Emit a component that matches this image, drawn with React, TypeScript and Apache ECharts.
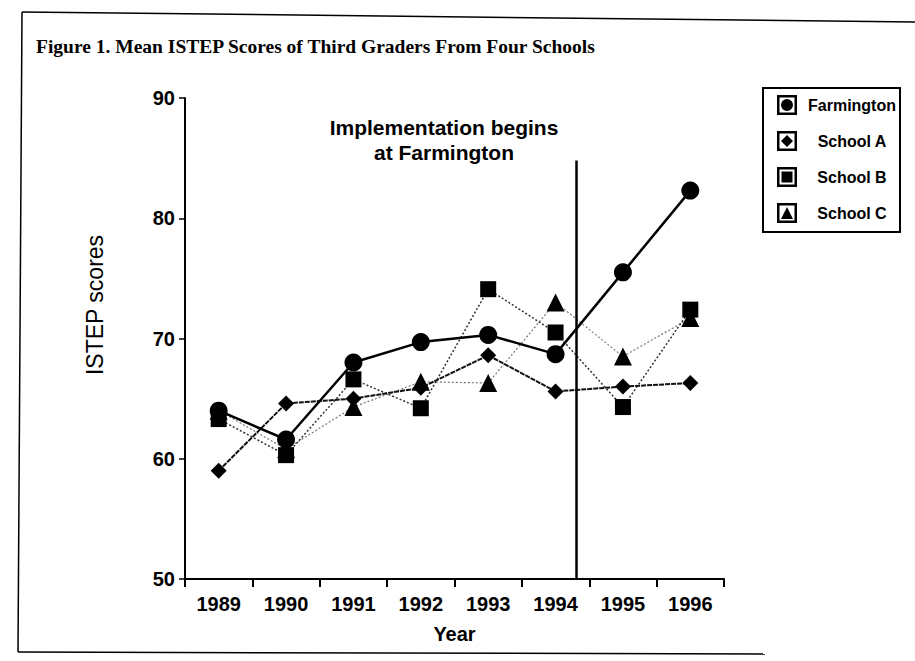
import React, { useEffect, useRef } from "react";
import * as echarts from "echarts";

const years = ["1989", "1990", "1991", "1992", "1993", "1994", "1995", "1996"];
const yearNums = [1989, 1990, 1991, 1992, 1993, 1994, 1995, 1996];
const farmington = [64.0, 61.6, 68.0, 69.7, 70.3, 68.7, 75.5, 82.3];
const schoolA = [59.0, 64.6, 65.0, 65.9, 68.6, 65.6, 66.0, 66.3];
const schoolB = [63.3, 60.3, 66.6, 64.2, 74.1, 70.5, 64.3, 72.4];
const schoolC = [64.0, 60.8, 64.3, 66.4, 66.3, 73.0, 68.5, 71.7];
const implementationYear = 1994.3;
const implementationTop = 84.8;

const ring = "M0,0H20V20H0Z M2.5,2.5V17.5H17.5V2.5Z ";
const icons = {
  circle: "path://" + ring + "M10,4A6,6,0,1,0,10,16A6,6,0,1,0,10,4Z",
  diamond: "path://" + ring + "M10,4L16,10L10,16L4,10Z",
  square: "path://" + ring + "M4.5,4.5H15.5V15.5H4.5Z",
  triangle: "path://" + ring + "M10,4L16,16L4,16Z",
};

const sans = "Liberation Sans, Arial, Helvetica, sans-serif";

export default function App() {
  const ref = useRef<HTMLDivElement>(null);
  useEffect(() => {
    if (!ref.current) return;
    const chart = echarts.init(ref.current, null, { renderer: "svg" });
    const pair = (vals: number[]) => yearNums.map((y, i) => [y, vals[i]]);
    const base = (name: string, vals: number[], symbol: string, size: number, line: any, z: number) => ({
      name,
      type: "line",
      xAxisIndex: 1,
      data: pair(vals),
      symbol,
      symbolSize: size,
      showSymbol: true,
      itemStyle: { color: "#000", borderWidth: 0 },
      lineStyle: line,
      z,
    });
    chart.setOption({
      animation: false,
      backgroundColor: "#fff",
      grid: { left: 185, right: 191, top: 98, bottom: 82, containLabel: false },
      graphic: [
        { type: "line", shape: { x1: 22, y1: 12, x2: 915, y2: 22 }, style: { stroke: "#000", lineWidth: 1.5 } },
        { type: "line", shape: { x1: 22, y1: 12, x2: 18, y2: 652 }, style: { stroke: "#000", lineWidth: 1.5 } },
        { type: "line", shape: { x1: 18, y1: 652, x2: 765, y2: 654 }, style: { stroke: "#000", lineWidth: 1.5 } },
        {
          type: "text",
          left: 36,
          top: 36,
          style: {
            text: "Figure 1. Mean ISTEP Scores of Third Graders From Four Schools",
            font: "bold 19.5px 'Liberation Serif', 'Times New Roman', serif",
            fill: "#000",
          },
        },
        {
          type: "text",
          x: 444,
          y: 140,
          style: {
            text: "Implementation begins\nat Farmington",
            font: "bold 21px " + sans,
            fill: "#000",
            align: "center",
            verticalAlign: "middle",
            lineHeight: 25,
          },
        },
        {
          type: "text",
          x: 95,
          y: 305,
          rotation: Math.PI / 2,
          style: {
            text: "ISTEP scores",
            font: "23px " + sans,
            fill: "#000",
            align: "center",
            verticalAlign: "middle",
          },
        },
      ],
      legend: {
        orient: "vertical",
        left: 763,
        top: 88,
        padding: [7, 4, 9, 14],
        itemWidth: 20,
        itemHeight: 20,
        itemGap: 16,
        borderColor: "#000",
        borderWidth: 2,
        itemStyle: { borderWidth: 0 },
        formatter: "{c|{name}}",
        textStyle: {
          rich: {
            c: { width: 100, align: "center", fontFamily: sans, fontWeight: "bold", fontSize: 16, color: "#000" },
          },
        },
        data: [
          { name: "Farmington", icon: icons.circle },
          { name: "School A", icon: icons.diamond },
          { name: "School B", icon: icons.square },
          { name: "School C", icon: icons.triangle },
        ],
      },
      xAxis: [
        {
          type: "category",
          data: years,
          boundaryGap: true,
          axisLine: { lineStyle: { color: "#000", width: 2 } },
          axisTick: { show: true, inside: false, length: 8, lineStyle: { color: "#000", width: 2 } },
          axisLabel: { color: "#000", fontFamily: sans, fontWeight: "bold", fontSize: 20, margin: 15 },
          name: "Year",
          nameLocation: "middle",
          nameGap: 45,
          nameTextStyle: { color: "#000", fontFamily: sans, fontWeight: "bold", fontSize: 20 },
          splitLine: { show: false },
        },
        {
          type: "value",
          min: 1988.5,
          max: 1996.5,
          show: false,
          splitLine: { show: false },
        },
      ],
      yAxis: {
        type: "value",
        min: 50,
        max: 90,
        interval: 10,
        axisLine: { show: true, lineStyle: { color: "#000", width: 2 } },
        axisTick: { show: true, length: 6, lineStyle: { color: "#000", width: 1.5 } },
        axisLabel: { color: "#000", fontFamily: sans, fontWeight: "bold", fontSize: 20, margin: 10 },
        splitLine: { show: false },
      },
      series: [
        base("School C", schoolC, "triangle", 18, { color: "#777", width: 1.2, type: [2, 2] }, 2),
        base("School B", schoolB, "rect", 16, { color: "#333", width: 1.5, type: [2, 2] }, 3),
        base("School A", schoolA, "diamond", 16, { color: "#111", width: 2, type: [5, 1] }, 4),
        {
          ...base("Farmington", farmington, "circle", 18, { color: "#000", width: 2.5, type: "solid" }, 5),
          markLine: {
            silent: true,
            symbol: "none",
            label: { show: false },
            lineStyle: { color: "#000", width: 2.5, type: "solid" },
            data: [[{ coord: [implementationYear, 50] }, { coord: [implementationYear, implementationTop] }]],
          },
        },
      ],
    });
    return () => chart.dispose();
  }, []);
  return <div ref={ref} style={{ position: "absolute", left: 0, top: 0, width: 915, height: 661 }} />;
}
